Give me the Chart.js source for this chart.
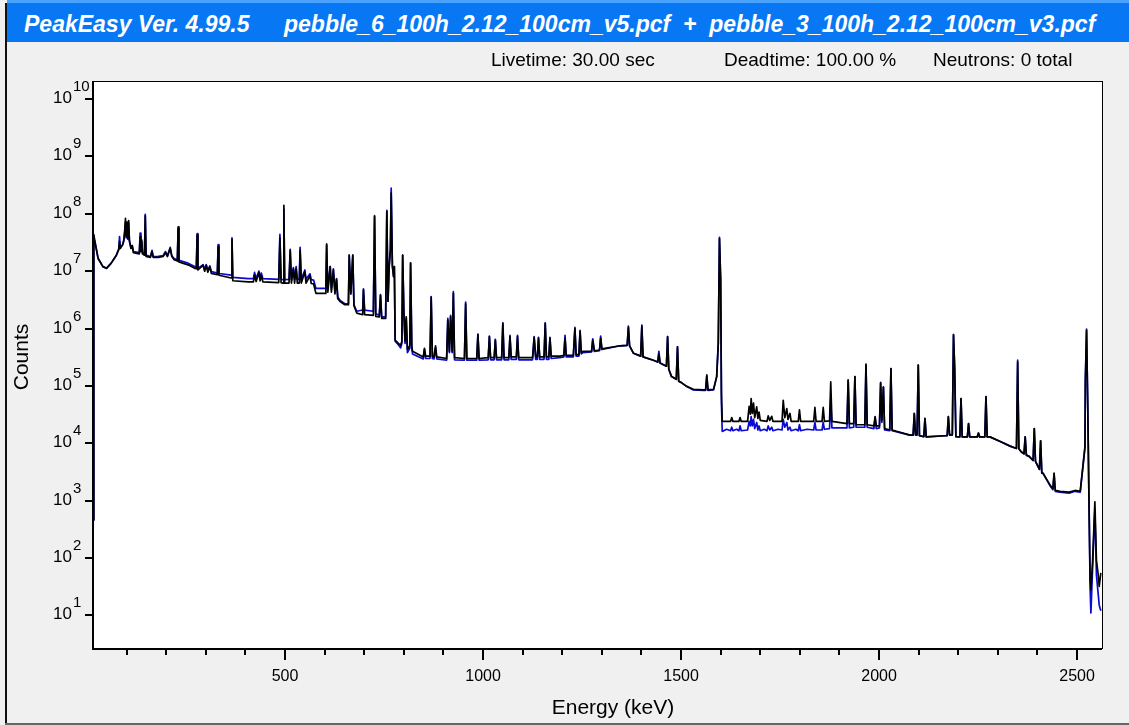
<!DOCTYPE html>
<html>
<head>
<meta charset="utf-8">
<title>PeakEasy spectrum</title>
<script src="https://cdn.jsdelivr.net/npm/chart.js@4.4.1/dist/chart.umd.min.js"></script>
<style>
  body{margin:0;background:#f0f0f0;font-family:"Liberation Sans",Arial,sans-serif;}
  #wrap{position:relative;width:1129px;height:725px;overflow:hidden;background:#f0f0f0;}
  #cv{position:absolute;left:0;top:0;}
  .edgeL{position:absolute;left:5px;top:3px;width:2px;height:722px;background:#111;}
  .edgeB{position:absolute;left:5px;top:723px;width:1124px;height:2px;background:#666;}
  .bar{position:absolute;left:7px;top:0;width:1122px;height:42px;background:#0777f4;border-top:3px solid #4aa3ff;box-sizing:border-box;}
  .ttl{position:absolute;top:13px;color:#fff;font-weight:bold;font-style:italic;font-size:23px;line-height:23px;white-space:pre;}
  .hdr{position:absolute;top:50px;color:#000;font-size:19px;line-height:19px;white-space:pre;}
</style>
</head>
<body>
<div id="wrap">
  <canvas id="cv" width="1129" height="725"></canvas>
  <div class="bar"></div>
  <div class="edgeL"></div>
  <div class="edgeB"></div>
  <span class="ttl" style="left:24px">PeakEasy Ver. 4.99.5</span>
  <span class="ttl" style="left:284px">pebble_6_100h_2.12_100cm_v5.pcf  +  pebble_3_100h_2.12_100cm_v3.pcf</span>
  <span class="hdr" style="left:491px">Livetime: 30.00 sec</span>
  <span class="hdr" style="left:724px">Deadtime: 100.00 %</span>
  <span class="hdr" style="left:933px">Neutrons: 0 total</span>
</div>
<script>
// spectra: [energy keV, counts]
// black trace (drawn on top)
const blackTrace = [
  [15,460],[17,4.3e7],[19,3.5e7],[28,1.66e7],[40,1.2e7],[49,1.12e7],[61,1.38e7],[74,1.9e7],
  [80,2.4e7],[82,3.3e7],[84,2.5e7],[90,2.9e7],[93,3.6e7],[95,5.0e7],[97,8.3e7],[99,4.0e7],
  [101,7.2e7],[103,3.8e7],[105,7.6e7],[107,3.4e7],[111,2.5e7],[114,2.8e7],[117,2.1e7],[132,2.0e7],
  [134,4.0e7],[136,2.2e7],[138,3.5e7],[140,2.0e7],[145,1.9e7],[147,9.3e7],[149,1.8e7],[160,1.74e7],
  [164,2.2e7],[167,1.74e7],[180,1.74e7],[192,1.8e7],[198,2.1e7],[203,1.8e7],[210,2.5e7],[214,1.8e7],
  [220,1.58e7],[228,1.5e7],[230,5.9e7],[232,1.45e7],[255,1.29e7],[272,1.12e7],[276,1.1e7],[278,4.3e7],
  [280,1.05e7],[293,1.26e7],[297,1.0e7],[301,1.26e7],[305,9.6e6],[310,1.2e7],[314,9.1e6],[329,8.7e6],
  [331,2.7e7],[333,8.5e6],[364,7.6e6],[366,3.6e7],[368,6.8e6],[407,6.5e6],[420,6.5e6],[423,8.5e6],
  [427,6.6e6],[434,9.5e6],[437,6.8e6],[440,8.5e6],[444,6.5e6],[484,6.3e6],[487,3.8e7],[490,6.3e6],
  [495,6.2e6],[497,1.4e8],[499,6.2e6],[510,6.2e6],[513,2.3e7],[516,6.2e6],[521,1.1e7],[524,6.2e6],
  [528,1.1e7],[531,6.2e6],[536,6.2e6],[538,2.3e7],[541,6.2e6],[550,9.8e6],[553,6.2e6],[563,8.3e6],
  [566,6.1e6],[572,6.0e6],[578,4.1e6],[603,4.1e6],[605,2.9e7],[608,4.3e6],[614,1.2e7],[617,4.3e6],
  [622,1.05e7],[626,4.0e6],[630,7.2e6],[633,3.3e6],[639,2.95e6],[651,2.6e6],[660,2.6e6],[662,1.9e7],
  [666,4.0e6],[671,1.9e7],[674,2.5e6],[681,1.86e6],[696,1.74e6],[698,4.7e6],[701,1.74e6],[723,1.7e6],
  [726,8.9e7],[729,1.62e6],[738,1.6e6],[741,3.8e6],[744,1.5e6],[754,1.5e6],[757,1.1e8],[760,3.0e6],
  [763,1.2e7],[766,2.3e7],[768,2.3e8],[771,1.2e7],[774,8e6],[776,1.2e7],[778,6.3e5],[786,5.5e5],
  [792,5.1e5],[795,6e5],[797,1.9e7],[800,2.0e6],[803,6e5],[806,1.6e6],[809,4.3e5],[815,5e5],
  [817,1.38e7],[820,5e5],[822,4.0e5],[849,3.2e5],[852,4.5e5],[855,3.3e5],[866,3.3e5],[869,3.5e6],
  [872,3.3e5],[876,3.2e5],[880,5e5],[883,3.2e5],[908,3.0e5],[911,1.4e6],[915,4e5],[918,1.6e6],
  [922,4e5],[925,4.1e6],[928,3.1e5],[953,3.0e5],[956,2.7e6],[959,3.0e5],[984,3.0e5],[987,7.8e5],
  [990,3.0e5],[1013,3.1e5],[1016,7.2e5],[1019,3.1e5],[1028,3.1e5],[1031,6.3e5],[1034,3.1e5],[1047,3.1e5],
  [1050,1.23e6],[1053,3.1e5],[1065,3.1e5],[1068,7.2e5],[1071,3.2e5],[1084,3.2e5],[1087,7.2e5],[1090,3.1e5],
  [1125,3.1e5],[1129,7e5],[1133,3.2e5],[1137,3.2e5],[1140,6.8e5],[1143,3.2e5],[1154,3.2e5],[1157,1.23e6],
  [1160,3.2e5],[1166,3.2e5],[1169,6.8e5],[1172,3.3e5],[1194,3.3e5],[1204,3.4e5],[1207,6.8e5],[1210,3.4e5],
  [1228,3.4e5],[1232,1.0e6],[1235,3.5e5],[1242,3.5e5],[1245,8.9e5],[1248,3.8e5],[1252,4.0e5],[1274,4.0e5],
  [1277,6.3e5],[1281,4.1e5],[1294,4.2e5],[1297,6.8e5],[1300,4.4e5],[1346,5.0e5],[1364,5.1e5],[1367,1.05e6],
  [1370,5.0e5],[1380,3.7e5],[1398,3.3e5],[1401,1.1e6],[1404,3.2e5],[1430,2.8e5],[1441,2.6e5],[1444,3.6e5],
  [1447,2.5e5],[1463,2.2e5],[1466,7.2e5],[1469,1.95e5],[1476,1.45e5],[1488,1.3e5],[1491,4.8e5],[1494,1.2e5],
  [1500,1.15e5],[1514,9.8e4],[1531,8.7e4],[1556,8.5e4],[1562,8.5e4],[1565,1.55e5],[1568,8.5e4],[1582,8.7e4],
  [1590,1.45e5],[1594,5.5e5],[1597,3.7e7],[1600,7.1e6],[1602,7.4e4],[1604,2.4e4],[1625,2.4e4],[1628,2.8e4],
  [1631,2.4e4],[1646,2.4e4],[1649,2.8e4],[1652,2.4e4],[1668,2.4e4],[1672,4.4e4],[1675,3.2e4],[1677,6.0e4],
  [1680,3.3e4],[1683,5.0e4],[1686,2.8e4],[1691,4.3e4],[1694,2.7e4],[1697,3.5e4],[1700,2.5e4],[1717,2.4e4],
  [1720,3.0e4],[1724,2.5e4],[1729,2.95e4],[1732,2.4e4],[1755,2.4e4],[1758,5.6e4],[1762,2.8e4],[1767,4.0e4],
  [1770,2.6e4],[1775,3.3e4],[1778,2.4e4],[1796,2.4e4],[1799,3.8e4],[1802,2.4e4],[1835,2.4e4],[1838,4.2e4],
  [1841,2.4e4],[1856,2.4e4],[1859,4.2e4],[1862,2.4e4],[1875,2.45e4],[1878,1.17e5],[1881,2.4e4],[1919,2.2e4],
  [1922,1.26e5],[1925,2.2e4],[1936,2.2e4],[1939,1.45e5],[1942,2.1e4],[1964,2.1e4],[1967,2.4e5],[1970,2.1e4],
  [1987,2.0e4],[1990,2.9e4],[1993,2.0e4],[2001,2.0e4],[2004,1.12e5],[2007,2.5e4],[2011,9.5e4],[2014,1.8e4],
  [2027,1.7e4],[2030,2.0e5],[2033,1.7e4],[2078,1.38e4],[2086,1.38e4],[2089,3.3e4],[2092,1.4e4],[2096,1.4e4],
  [2099,2.3e5],[2102,1.35e4],[2113,1.3e4],[2116,2.7e4],[2119,1.29e4],[2167,1.35e4],[2172,1.35e4],[2175,2.9e4],
  [2178,1.4e4],[2185,1.4e4],[2188,7.8e5],[2191,2.0e5],[2194,1.3e4],[2204,1.29e4],[2207,6.0e4],[2210,1.29e4],
  [2223,1.29e4],[2226,2.2e4],[2229,1.29e4],[2248,1.29e4],[2251,1.5e4],[2254,1.29e4],[2267,1.29e4],[2270,6.5e4],
  [2273,1.29e4],[2280,1.29e4],[2306,1.07e4],[2331,8.9e3],[2347,8.1e3],[2350,2.6e5],[2353,8.0e3],[2359,7.1e3],
  [2366,6.5e3],[2369,1.29e4],[2372,6.2e3],[2379,5.9e3],[2389,5.0e3],[2392,1.8e4],[2395,4.8e3],[2405,3.5e3],
  [2408,1.1e4],[2411,3.0e3],[2414,3.0e3],[2432,1.86e3],[2439,1.6e3],[2442,3.0e3],[2445,1.5e3],[2457,1.45e3],
  [2480,1.4e3],[2495,1.5e3],[2508,1.45e3],[2516,4.8e3],[2520,8.7e3],[2521,1.26e5],[2524,9.3e5],[2527,4.4e4],
  [2530,1.17e3],[2533,42],[2535,28],[2539,81],[2545,950],[2549,91],[2553,54],[2556,32],[2560,55]
];

// blue trace (underneath)
const blueTrace = [
  [15,460],[17,4.3e7],[19,3.5e7],[28,1.66e7],[40,1.2e7],[49,1.12e7],[61,1.38e7],[74,1.9e7],
  [80,2.4e7],[82,4.0e7],[84,2.5e7],[90,2.9e7],[93,3.4e7],[95,4.6e7],[97,7.1e7],[99,3.8e7],
  [101,6.6e7],[103,3.6e7],[105,7.0e7],[107,3.3e7],[111,2.5e7],[114,2.8e7],[117,2.2e7],[132,2.1e7],
  [134,4.6e7],[136,2.3e7],[138,3.3e7],[140,2.1e7],[145,2.0e7],[147,9.8e7],[149,1.9e7],[160,1.8e7],
  [164,2.3e7],[167,1.8e7],[180,1.82e7],[192,1.86e7],[198,2.2e7],[203,1.86e7],[210,2.6e7],[214,1.86e7],
  [220,1.66e7],[228,1.58e7],[230,5.6e7],[232,1.55e7],[255,1.38e7],[272,1.2e7],[276,1.18e7],[278,4.5e7],
  [280,1.12e7],[293,1.3e7],[297,1.07e7],[301,1.3e7],[305,1.05e7],[310,1.23e7],[314,9.8e6],[329,9.3e6],
  [331,2.9e7],[333,9.1e6],[364,8.5e6],[366,3.8e7],[368,7.8e6],[407,7.4e6],[420,7.4e6],[423,9.5e6],
  [427,7.4e6],[434,1.0e7],[437,7.4e6],[440,9.3e6],[444,7.4e6],[484,7.2e6],[487,4.4e7],[490,7.2e6],
  [495,7.1e6],[497,1.2e8],[499,7.1e6],[510,7.2e6],[513,2.4e7],[516,7.2e6],[521,1.15e7],[524,7.2e6],
  [528,1.2e7],[531,7.2e6],[536,7.2e6],[538,2.6e7],[541,7.2e6],[550,1.05e7],[553,7.2e6],[563,9.0e6],
  [566,7.1e6],[572,7.0e6],[578,5.0e6],[603,5.0e6],[605,3.0e7],[608,5.0e6],[614,1.2e7],[617,4.8e6],
  [622,1.1e7],[626,4.4e6],[630,7.4e6],[633,3.6e6],[639,3.1e6],[651,2.7e6],[660,2.7e6],[662,1.9e7],
  [666,4.0e6],[671,1.9e7],[674,2.6e6],[681,2.0e6],[696,2.1e6],[698,4.9e6],[701,2.1e6],[723,2.0e6],
  [726,9.3e7],[729,1.8e6],[738,1.7e6],[741,3.9e6],[744,1.6e6],[754,1.6e6],[757,1.15e8],[760,3.0e6],
  [763,1.3e7],[766,2.5e7],[768,2.8e8],[771,1.3e7],[774,8e6],[776,1.2e7],[778,6.0e5],[786,5.2e5],
  [792,4.6e5],[795,5.5e5],[797,1.9e7],[800,1.9e6],[803,5.5e5],[806,1.5e6],[809,3.8e5],[815,4.5e5],
  [817,1.4e7],[820,4.5e5],[822,3.6e5],[849,2.95e5],[852,4.3e5],[855,3.0e5],[866,3.0e5],[869,3.6e6],
  [872,3.0e5],[876,2.95e5],[880,4.6e5],[883,2.95e5],[908,2.8e5],[911,1.5e6],[915,3.8e5],[918,1.7e6],
  [922,3.8e5],[925,4.4e6],[928,2.85e5],[953,2.8e5],[956,2.9e6],[959,2.8e5],[984,2.8e5],[987,8.0e5],
  [990,2.8e5],[1013,2.85e5],[1016,7.4e5],[1019,2.85e5],[1028,2.85e5],[1031,6.5e5],[1034,2.85e5],[1047,2.85e5],
  [1050,1.26e6],[1053,2.85e5],[1065,2.85e5],[1068,7.6e5],[1071,2.9e5],[1084,2.9e5],[1087,7.6e5],[1090,2.85e5],
  [1125,2.85e5],[1129,7.2e5],[1133,2.9e5],[1137,2.9e5],[1140,7.0e5],[1143,2.9e5],[1154,2.9e5],[1157,1.26e6],
  [1160,2.9e5],[1166,2.9e5],[1169,7.0e5],[1172,3.0e5],[1194,3.1e5],[1204,3.2e5],[1207,7.6e5],[1210,3.2e5],
  [1228,3.2e5],[1232,1.05e6],[1235,3.3e5],[1242,3.3e5],[1245,9.3e5],[1248,3.6e5],[1252,3.8e5],[1274,3.9e5],
  [1277,6.6e5],[1281,4.0e5],[1294,4.1e5],[1297,7.4e5],[1300,4.3e5],[1346,5.0e5],[1364,5.1e5],[1367,1.1e6],
  [1370,5.0e5],[1380,3.7e5],[1398,3.3e5],[1401,1.15e6],[1404,3.2e5],[1430,2.8e5],[1441,2.6e5],[1444,4.0e5],
  [1447,2.5e5],[1463,2.2e5],[1466,7.2e5],[1469,1.95e5],[1476,1.45e5],[1488,1.3e5],[1491,4.8e5],[1494,1.2e5],
  [1500,1.15e5],[1514,9.8e4],[1531,8.5e4],[1556,8.3e4],[1562,8.3e4],[1565,1.5e5],[1568,8.3e4],[1582,8.5e4],
  [1590,1.45e5],[1594,5.5e5],[1597,3.9e7],[1600,7.1e6],[1602,5.0e4],[1604,1.6e4],[1615,1.75e4],[1625,1.65e4],
  [1628,1.9e4],[1631,1.65e4],[1640,1.75e4],[1646,1.65e4],[1649,2.0e4],[1652,1.65e4],[1668,1.7e4],[1672,2.4e4],
  [1675,2.0e4],[1677,2.9e4],[1680,2.0e4],[1683,2.6e4],[1686,1.8e4],[1691,2.3e4],[1694,1.7e4],[1697,2.0e4],
  [1700,1.65e4],[1710,1.75e4],[1717,1.65e4],[1720,2.0e4],[1724,1.7e4],[1729,1.9e4],[1732,1.65e4],[1745,1.75e4],
  [1755,1.7e4],[1758,2.6e4],[1762,1.9e4],[1767,2.3e4],[1770,1.7e4],[1775,1.9e4],[1778,1.65e4],[1790,1.75e4],
  [1796,1.65e4],[1799,2.1e4],[1802,1.65e4],[1818,1.75e4],[1835,1.7e4],[1838,2.3e4],[1841,1.7e4],[1856,1.7e4],
  [1859,2.3e4],[1862,1.75e4],[1875,1.8e4],[1878,6.0e4],[1881,1.85e4],[1919,1.85e4],[1922,1.26e5],[1925,1.85e4],
  [1936,1.9e4],[1939,1.45e5],[1942,1.9e4],[1964,1.9e4],[1967,2.3e5],[1970,1.9e4],[1987,1.8e4],[1990,2.8e4],
  [1993,1.8e4],[2001,1.85e4],[2004,1.15e5],[2007,2.3e4],[2011,9.5e4],[2014,1.7e4],[2027,1.65e4],[2030,2.0e5],
  [2033,1.65e4],[2078,1.38e4],[2086,1.38e4],[2089,3.3e4],[2092,1.4e4],[2096,1.4e4],[2099,2.3e5],[2102,1.35e4],
  [2113,1.3e4],[2116,2.7e4],[2119,1.29e4],[2167,1.35e4],[2172,1.35e4],[2175,2.9e4],[2178,1.4e4],[2185,1.4e4],
  [2188,7.8e5],[2191,2.0e5],[2194,1.3e4],[2204,1.29e4],[2207,6.0e4],[2210,1.29e4],[2223,1.29e4],[2226,2.2e4],
  [2229,1.29e4],[2248,1.29e4],[2251,1.5e4],[2254,1.29e4],[2267,1.29e4],[2270,6.5e4],[2273,1.29e4],[2280,1.29e4],
  [2306,1.07e4],[2331,8.9e3],[2347,8.1e3],[2350,2.8e5],[2353,8.0e3],[2359,7.1e3],[2366,6.5e3],[2369,1.29e4],
  [2372,6.2e3],[2379,5.9e3],[2389,5.0e3],[2392,1.8e4],[2395,4.8e3],[2405,3.5e3],[2408,1.1e4],[2411,3.0e3],
  [2414,3.0e3],[2432,1.8e3],[2439,1.55e3],[2442,2.9e3],[2445,1.45e3],[2457,1.4e3],[2480,1.35e3],[2495,1.45e3],
  [2508,1.4e3],[2516,4.6e3],[2520,8.5e3],[2521,1.3e5],[2524,9.8e5],[2527,4.6e4],[2530,1.1e3],[2533,30],
  [2535,11],[2539,60],[2545,700],[2549,50],[2553,25],[2556,15],[2560,12]
];

// axis ticks
const xTickValues = [100,200,300,400,500,600,700,800,900,1000,1100,1200,1300,1400,1500,
                     1600,1700,1800,1900,2000,2100,2200,2300,2400,2500];
const xLabelValues = [500,1000,1500,2000,2500];
const yTickValues = [1e1,1e2,1e3,1e4,1e5,1e6,1e7,1e8,1e9,1e10];
const yTickExponents = ['1','2','3','4','5','6','7','8','9','10'];

const FONT = '"Liberation Sans", Arial, sans-serif';

// white plot area, frame, tick marks, 10^n labels and axis titles
const framePlugin = {
  id: 'frame',
  beforeDraw(chart){
    const {ctx, chartArea:a} = chart;
    ctx.save();
    ctx.fillStyle = '#fff';
    ctx.fillRect(a.left, a.top, a.right-a.left, a.bottom-a.top);
    ctx.restore();
  },
  afterDraw(chart){
    const {ctx, chartArea:a, scales} = chart;
    ctx.save();
    ctx.fillStyle = '#000';
    // frame: heavier left/bottom axes
    ctx.fillRect(a.left-1, a.top, 2, a.bottom-a.top+1);
    ctx.fillRect(a.left-1, a.bottom-1, a.right-a.left+1, 2);
    ctx.fillRect(a.left, a.top, a.right-a.left, 1);
    ctx.fillRect(a.right, a.top, 1, a.bottom-a.top);

    // x ticks
    xTickValues.forEach(v=>{
      const px = Math.round(scales.x.getPixelForValue(v));
      const len = xLabelValues.includes(v) ? 11 : 6;
      ctx.fillRect(px-1, a.bottom, 2, len);
    });

    // y ticks + labels
    ctx.textAlign = 'left';
    ctx.textBaseline = 'middle';
    yTickValues.forEach((v,i)=>{
      const py = Math.round(scales.y.getPixelForValue(v));
      ctx.fillRect(a.left-8, py-1, 8, 2);
      ctx.font = '17px '+FONT;
      ctx.fillText('10', 53, py-1);
      const w = ctx.measureText('10').width;
      ctx.font = '15px '+FONT;
      ctx.fillText(yTickExponents[i], 53+w+1, py-12);
    });

    // axis titles
    ctx.font = '21px '+FONT;
    ctx.textAlign = 'center';
    ctx.fillText('Energy (keV)', 613, 708);
    ctx.translate(22, 357);
    ctx.rotate(-Math.PI/2);
    ctx.fillText('Counts', 0, 0);
    ctx.restore();
  }
};

const toXY = arr => arr.map(p=>({x:p[0], y:p[1]}));

new Chart(document.getElementById('cv').getContext('2d'), {
  type: 'line',
  data: {datasets: [
    {label:'pebble_6_100h_2.12_100cm_v5.pcf', data: toXY(blackTrace), borderColor:'#000',
     borderWidth:1.7, pointRadius:0, tension:0, borderJoinStyle:'round', fill:false},
    {label:'pebble_3_100h_2.12_100cm_v3.pcf', data: toXY(blueTrace), borderColor:'#0a0ad0',
     borderWidth:1.7, pointRadius:0, tension:0, borderJoinStyle:'round', fill:false}
  ]},
  options: {
    responsive:false, animation:false, devicePixelRatio:1,
    layout:{padding:{top:81, right:27, bottom:0, left:0}},
    plugins:{legend:{display:false}, tooltip:{enabled:false}},
    scales:{
      x:{type:'linear', min:15, max:2563,
         afterBuildTicks: s=>{ s.ticks = xTickValues.map(v=>({value:v})); },
         afterFit: s=>{ s.height = 76; },
         grid:{display:false}, border:{display:false},
         ticks:{autoSkip:false, maxRotation:0, padding:10, color:'#000',
                font:{size:16, family:FONT},
                callback: v => xLabelValues.includes(v) ? String(v) : ''}},
      y:{type:'logarithmic', min:2.58, max:2.07e10,
         afterBuildTicks: s=>{ s.ticks = yTickValues.map(v=>({value:v})); },
         afterFit: s=>{ s.width = 93; },
         grid:{display:false}, border:{display:false},
         ticks:{display:false}}
    }
  },
  plugins:[framePlugin]
});
</script>
</body>
</html>
